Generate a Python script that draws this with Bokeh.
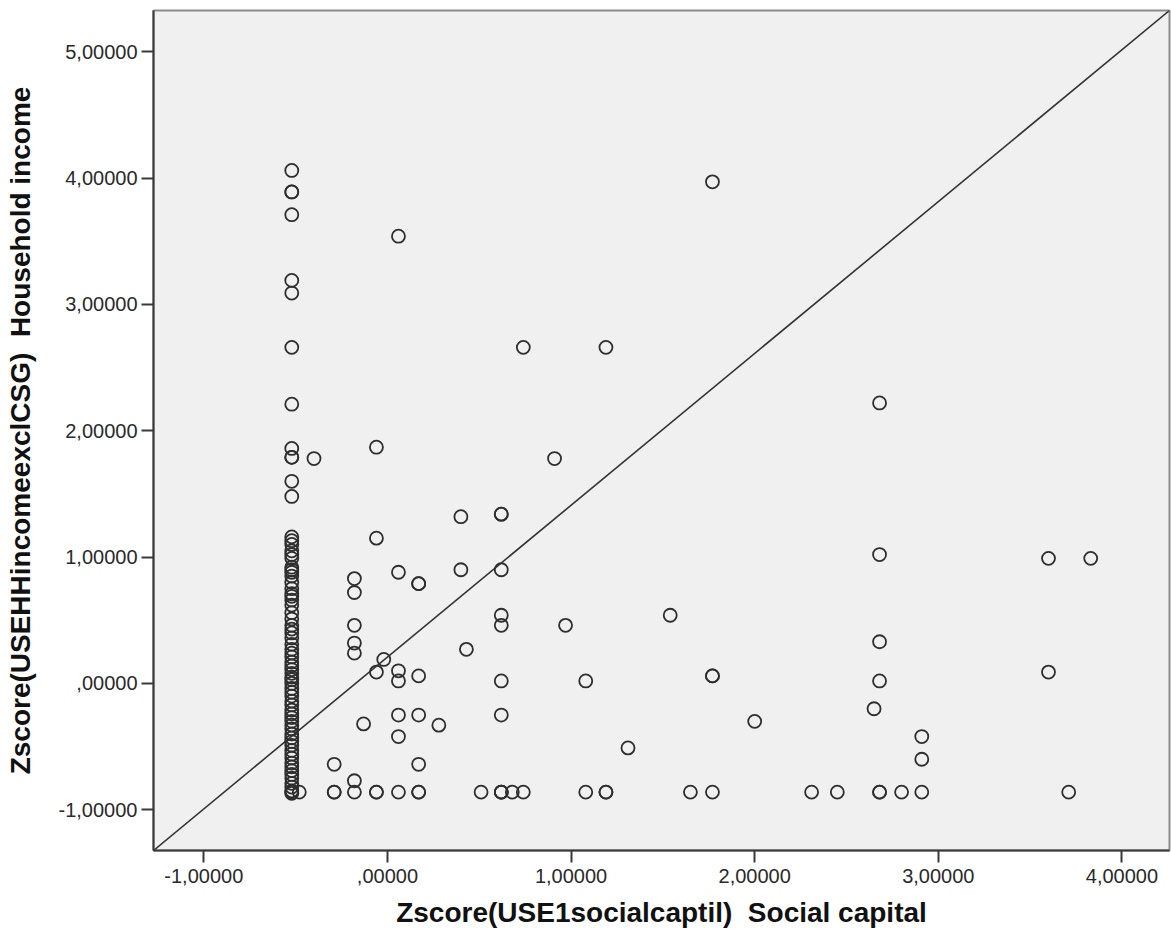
from bokeh.plotting import figure
from bokeh.models import FixedTicker, CustomJSTickFormatter, Range1d
from bokeh.embed import file_html
from bokeh.resources import INLINE

# ---- data ----
x_ticks = [-1, 0, 1, 2, 3, 4]
y_ticks = [-1, 0, 1, 2, 3, 4, 5]
x_view = [-1.274, 4.259]
y_view = [-1.322, 5.326]

# Column of respondents at the modal social-capital score
column_x = -0.521
column_y = [4.06, 3.89, 3.89, 3.71, 3.19, 3.09, 2.66, 2.21, 1.86, 1.79, 1.79, 1.60, 1.48,
            1.16, 1.13, 1.10, 1.05, 1.02, 0.99, 0.92, 0.90, 0.88, 0.85, 0.80, 0.75, 0.71,
            0.69, 0.66, 0.62, 0.56, 0.51, 0.46, 0.43, 0.40, 0.36, 0.31, 0.27, 0.24, 0.21,
            0.17, 0.14, 0.11, 0.08, 0.05, 0.03, 0.00, -0.04, -0.07, -0.10, -0.14, -0.17,
            -0.21, -0.24, -0.27, -0.30, -0.33, -0.36, -0.40, -0.43, -0.46, -0.49, -0.53,
            -0.56, -0.59, -0.63, -0.66, -0.69, -0.72, -0.75, -0.79, -0.82, -0.85, -0.86, -0.87]

# Remaining respondents
social_capital = [0.06, 1.77, 0.74, 1.19, 2.68, 0.91, -0.06, -0.06, -0.40,
                  0.40, 0.62, 0.62, 2.68, 3.60, 3.83,
                  0.06, 0.17, 0.17, 0.40, 0.62, -0.18, -0.18,
                  0.62, 0.62, 0.97, 1.54, -0.18, -0.18, -0.18,
                  0.43, -0.02, 2.68, 3.60,
                  0.62, 1.08, 1.77, 1.77, 2.68,
                  0.06, 0.06, 0.17, -0.06,
                  0.06, 0.17, 0.28, 0.62, -0.13,
                  0.06, 2.00, 2.65, 2.91, 2.91, 1.31,
                  0.17, -0.29, -0.18,
                  -0.48, -0.29, -0.29, -0.18, -0.06, -0.06, 0.06, 0.17, 0.17, 0.51,
                  0.62, 0.62, 0.62, 0.68, 0.74, 1.08, 1.19, 1.19, 1.65, 1.77,
                  2.31, 2.45, 2.68, 2.68, 2.80, 2.91, 3.71]
household_income = [3.54, 3.97, 2.66, 2.66, 2.22, 1.78, 1.87, 1.15, 1.78,
                    1.32, 1.34, 1.34, 1.02, 0.99, 0.99,
                    0.88, 0.79, 0.79, 0.90, 0.90, 0.83, 0.72,
                    0.54, 0.46, 0.46, 0.54, 0.46, 0.32, 0.24,
                    0.27, 0.19, 0.33, 0.09,
                    0.02, 0.02, 0.06, 0.06, 0.02,
                    0.10, 0.02, 0.06, 0.09,
                    -0.25, -0.25, -0.33, -0.25, -0.32,
                    -0.42, -0.30, -0.20, -0.42, -0.60, -0.51,
                    -0.64, -0.64, -0.77,
                    -0.86, -0.86, -0.86, -0.86, -0.86, -0.86, -0.86, -0.86, -0.86, -0.86,
                    -0.86, -0.86, -0.86, -0.86, -0.86, -0.86, -0.86, -0.86, -0.86, -0.86,
                    -0.86, -0.86, -0.86, -0.86, -0.86, -0.86, -0.86]

x_title = "Zscore(USE1socialcaptil)\u00a0\u00a0Social capital"
y_title = "Zscore(USEHHincomeexclCSG)\u00a0\u00a0Household income"

# ---- figure ----
p = figure(width=1171, height=938, output_backend="svg", toolbar_location=None,
           x_range=Range1d(*x_view), y_range=Range1d(*y_view),
           min_border_left=153, min_border_top=10, min_border_right=2, min_border_bottom=88)
p.background_fill_color = "#f0f0f0"
p.border_fill_color = "white"
p.outline_line_color = "#8c8c8c"
p.outline_line_width = 2
p.grid.visible = False

fmt = CustomJSTickFormatter(code="""
    var s = Math.abs(tick).toFixed(5).replace('.', ',');
    if (s.startsWith('0,')) { s = s.substring(1); }
    return (tick < -1e-9 ? '-' : '') + s;
""")

for ax, ticks in ((p.xaxis[0], x_ticks), (p.yaxis[0], y_ticks)):
    ax.ticker = FixedTicker(ticks=ticks)
    ax.formatter = fmt
    ax.minor_tick_line_color = None
    ax.major_tick_in = 0
    ax.major_tick_out = 12
    ax.major_tick_line_width = 2
    ax.major_tick_line_color = "#3a3a3a"
    ax.axis_line_width = 2
    ax.axis_line_color = "#3a3a3a"
    ax.major_label_text_font = "Liberation Sans"
    ax.major_label_text_font_size = "20px"
    ax.major_label_text_color = "#2a2a2a"
    ax.axis_label_text_font = "Liberation Sans"
    ax.axis_label_text_font_size = "28px"
    ax.axis_label_text_font_style = "bold"
    ax.axis_label_text_color = "#111111"

p.xaxis.axis_label = x_title
p.yaxis.axis_label = y_title
p.xaxis.major_label_standoff = 6
p.xaxis.axis_label_standoff = 11
p.yaxis.major_label_standoff = 4
p.yaxis.axis_label_standoff = 20

# reference diagonal (corner to corner of the frame)
p.line(x=x_view, y=y_view, line_color="#333333", line_width=1.6)

p.scatter(x=[column_x] * len(column_y), y=column_y, marker="circle", size=13,
          fill_color=None, line_color="#2e2e2e", line_width=1.8)
p.scatter(x=social_capital, y=household_income, marker="circle", size=13,
          fill_color=None, line_color="#2e2e2e", line_width=1.8)

open("out.html", "w").write(file_html(p, INLINE))
